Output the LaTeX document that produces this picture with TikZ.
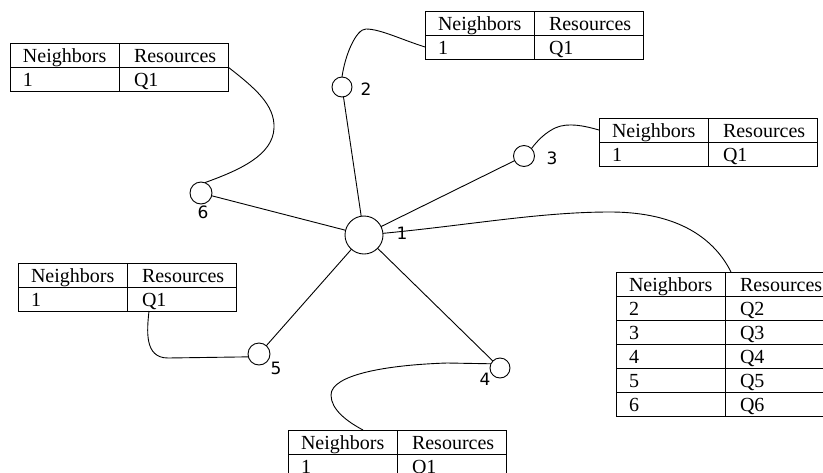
\documentclass[tikz,border=0pt]{standalone}
\usepackage{fontspec}
\setmainfont{Liberation Serif}
\newfontfamily\lblfont{DejaVu Sans}
\usetikzlibrary{calc}
\tikzset{
 cellA/.style={draw, line width=1pt, inner ysep=0pt, inner xsep=13pt, text width=83pt,
   minimum height=24pt, text height=16pt, text depth=2pt, outer sep=0pt,
   anchor=north west, align=left, font=\fontsize{20}{24}\selectfont},
 cellB/.style={cellA, inner xsep=15pt, text width=79pt},
 vert/.style={draw, circle, line width=0.9pt, inner sep=0pt, outer sep=0pt},
 lbl/.style={font=\lblfont\fontsize{17}{20}\selectfont, inner sep=0pt},
 link/.style={line width=0.9pt},
}
\newcommand\ntab[4]{%
 \foreach \a/\b [count=\i] in {#4}{%
   \node[cellA] (#1-\i a) at ({#2},{#3+24*(\i-1)}) {\a};
   \node[cellB] (#1-\i b) at ({#2+109},{#3+24*(\i-1)}) {\b};
 }}
\begin{document}
\begin{tikzpicture}[x=1pt,y=-1pt]
\useasboundingbox (0,0) rectangle (823,472);
\clip (0,0) rectangle (823,472);
\fill[white] (0,0) rectangle (823,472);

% tables
\ntab{tA}{10}{43}{Neighbors/Resources,1/Q1}
\ntab{tB}{425}{11}{Neighbors/Resources,1/Q1}
\ntab{tC}{599}{118}{Neighbors/Resources,1/Q1}
\ntab{tD}{18}{263}{Neighbors/Resources,1/Q1}
\ntab{tE}{616}{272}{Neighbors/Resources,2/Q2,3/Q3,4/Q4,5/Q5,6/Q6}
\ntab{tF}{288}{430}{Neighbors/Resources,1/Q1}

% vertices
\node[vert, minimum size=38pt] (n1) at (364,235) {};
\node[vert, minimum size=20pt] (n2) at (342,87) {};
\node[vert, minimum size=21pt] (n3) at (524,156) {};
\node[vert, minimum size=20pt] (n4) at (500,368) {};
\node[vert, minimum size=22pt] (n5) at (259,354) {};
\node[vert, minimum size=22pt] (n6) at (201,193) {};

% edges
\draw[link] (n1) -- (n2);
\draw[link] (n1) -- (n3);
\draw[link] (n1) -- (n4);
\draw[link] (n1) -- (n5);
\draw[link] (n1) -- (n6);

% table connectors
\draw[link] (tA-1b.south east) .. controls (255,88) and (275,105) .. (274,128)
  .. controls (273,155) and (240,170) .. (n6.70);
\draw[link] (tB-2a.west) .. controls (400,39) and (380,29) .. (366,29)
  .. controls (356,29) and (345,55) .. (n2.north);
\draw[link] (tC-1a.west) .. controls (585,126) and (568,122) .. (555,128)
  .. controls (545,133) and (538,140) .. (n3.north east);
\draw[link] ([xshift=22pt]tD-2b.south west) .. controls (147,330) and (144,358) .. (168,358)
  -- (n5.195);
\draw[link] (n4.155) -- (447,363) .. controls (385,365) and (331,375) .. (331,395)
  .. controls (331,410) and (348,422) .. ([xshift=75pt]tF-1a.north west);
\draw[link] (n1.5) .. controls (470,225) and (540,212) .. (610,212)
  .. controls (680,212) and (715,240) .. ([xshift=6pt]tE-1b.north west);

% labels
\node[lbl] (l1) at (402,233) {1};
\node[lbl] (l2) at (366,89) {2};
\node[lbl] (l3) at (552,158) {3};
\node[lbl] (l4) at (485,379) {4};
\node[lbl] (l5) at (276,368) {5};
\node[lbl] (l6) at (203,212) {6};
\end{tikzpicture}
\end{document}
